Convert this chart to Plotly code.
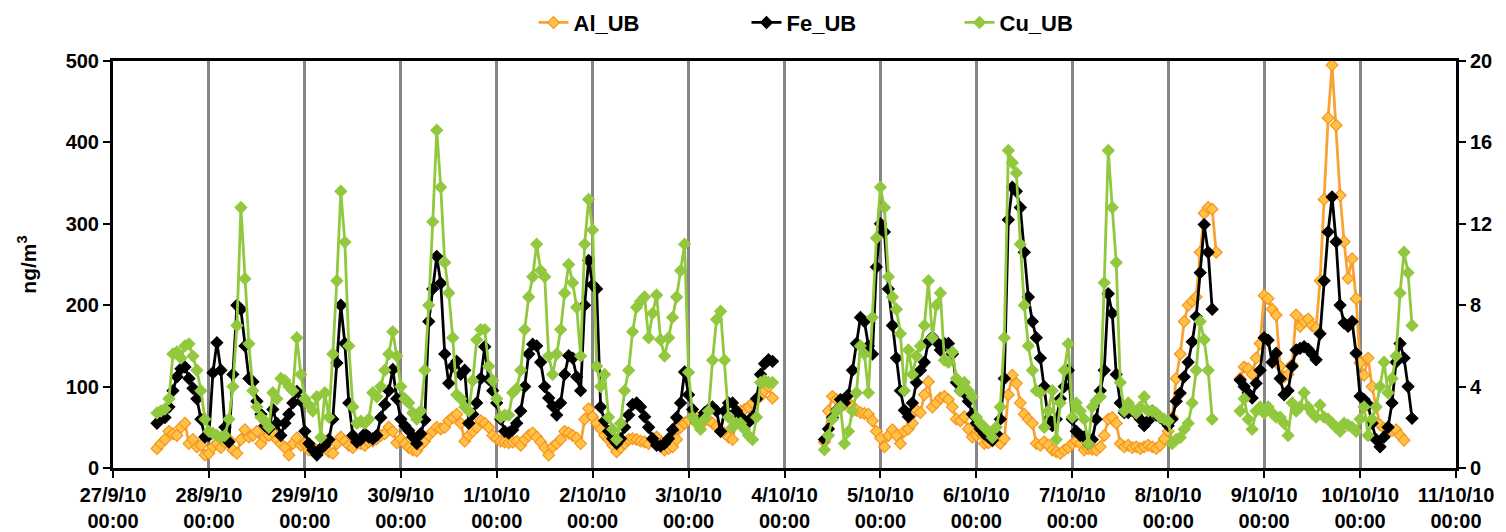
"""
Hourly Al / Fe / Cu concentrations at UB site, 27/9/10 - 10/10/10
"""
import pandas as pd
import plotly.graph_objects as go

# start hour (from 27/9/10 00:00) of each measurement block
seg_start = [11, 178, 282]

# Al_UB, ng/m3 (left axis)
al_seg1 = [24, 30, 35, 45, 42, 40, 50, 55, 30, 35, 26, 28, 16, 18, 26, 30, 25, 32, 35, 22,
           18, 35, 47, 38, 40, 45, 30, 38, 40, 44, 35, 30, 25, 16, 30, 37, 28, 30, 22, 25, 22,
           22, 25, 20, 18, 30, 38, 33, 28, 25, 31, 30, 28, 32, 33, 36, 40, 42, 50, 45, 31,
           36, 30, 25, 22, 21, 28, 33, 40, 45, 50, 48, 50, 58, 62, 66, 55, 33, 40, 45, 50,
           58, 55, 50, 40, 36, 33, 32, 31, 32, 33,
           28, 35, 40, 43, 38, 32, 25, 16, 26, 30, 35, 45, 43, 40, 37, 30, 60, 73, 63, 55,
           48, 40, 35, 28, 20, 25, 30, 35, 36, 35, 33, 32, 30, 35, 38, 30, 22, 24, 26, 35,
           50, 55, 59, 62, 63, 57, 58, 59, 55, 51,
           45, 43, 38, 35, 60, 70, 72, 75, 80, 85, 88, 95, 100, 86]
al_seg2 = [32, 70, 88, 84, 75, 78, 80, 76, 71, 68,
           67, 66, 58, 45, 37, 26, 40, 47, 40, 30,
           45, 48, 55, 71, 68, 90, 106, 75, 80, 86,
           88, 84, 75, 60, 58, 63, 48, 38, 40, 43,
           30, 31, 33, 35, 30, 36, 90, 114, 104, 80,
           66, 60, 55, 30, 28, 32, 28, 22, 20, 18,
           22, 25, 30, 33, 30, 22, 24, 23, 22, 26,
           40, 60, 62, 55, 30, 26, 28, 25, 26, 24,
           26, 28, 26, 24, 28, 36, 45, 62, 110, 140,
           180, 200, 205, 210, 265, 313, 320, 318, 265]
al_seg3 = [110, 124, 122, 115, 135, 153, 212, 208, 195, 188,
           125, 112, 115, 127, 188, 174, 180, 183, 175, 172,
           230, 330, 430, 495, 421, 335, 278, 233, 257, 208,
           129, 114, 135, 100, 75, 53, 49, 45, 46, 47,
           40, 34]

# Fe_UB, ng/m3 (left axis)
fe_seg1 = [55, 60, 62, 75, 95, 112, 122, 124, 110, 98, 85, 60, 38, 40, 117, 154, 120, 50, 32, 115,
           200, 195, 150, 110, 106, 82, 66, 52, 48, 72, 55, 40, 55, 66, 80, 94, 82, 45, 30, 22, 16,
           24, 28, 35, 60, 129, 200, 153, 80, 40, 32, 35, 42, 38, 36, 40, 62, 78, 95, 121, 85,
           60, 52, 46, 38, 30, 42, 59, 180, 220, 260, 227, 140, 104, 125, 131, 115, 120, 55, 66, 80,
           110, 149, 109, 95, 80, 60, 45, 43, 47, 55,
           70, 100, 140, 152, 150, 130, 100, 86, 76, 65, 80, 115, 138, 135, 112, 95, 200, 255, 225, 220,
           75, 58, 45, 36, 30, 36, 50, 65, 78, 80, 75, 63, 50, 36, 28, 27, 30, 36, 47, 62,
           80, 118, 90, 72, 56, 60, 68, 72, 75, 70,
           45, 70, 80, 80, 70, 63, 58, 56, 63, 85, 115, 128, 133, 131]
fe_seg2 = [35, 48, 62, 71, 84, 80, 90, 120, 153, 185,
           180, 150, 140, 247, 300, 290, 220, 175, 135, 95,
           71, 63, 80, 105, 120, 130, 155, 161, 155, 145,
           153, 153, 140, 105, 95, 92, 82, 66, 55, 48,
           42, 38, 34, 42, 60, 110, 305, 345, 340, 320,
           265, 210, 180, 160, 135, 100, 60, 52, 60, 85,
           100, 120, 60, 45, 40, 38, 30, 35, 60, 95,
           120, 214, 190, 115, 80, 68, 68, 71, 66, 60,
           52, 58, 70, 65, 62, 58, 52, 60, 82, 92,
           112, 130, 155, 186, 240, 299, 265, 195]
fe_seg3 = [108, 100, 92, 86, 104, 120, 160, 157, 130, 141,
           110, 90, 95, 125, 145, 147, 149, 146, 140, 133,
           165, 230, 290, 333, 278, 200, 178, 174, 180, 141,
           88, 84, 78, 55, 35, 26, 38, 50, 80, 130,
           153, 135, 100, 61]

# Cu_UB, ng/m3 (right axis)
cu_seg1 = [2.7, 2.8, 2.9, 3.4, 5.6, 5.7, 5.4, 6.0, 6.1, 5.5, 4.8, 3.8, 2.4, 1.8, 1.7, 1.6, 1.5, 1.6, 2.4, 4.0,
           7.0, 12.8, 9.3, 6.1, 3.8, 3.0, 2.5, 2.3, 2.0, 3.7, 3.4, 4.4, 4.3, 4.0, 3.8, 6.4, 4.6, 3.4, 3.1, 2.8, 3.5,
           1.5, 3.7, 2.5, 5.6, 9.2, 13.6, 11.1, 6.0, 3.0, 2.2, 2.3, 2.2, 2.4, 3.7, 3.5, 4.0, 4.8, 5.6, 6.7, 5.5,
           4.0, 3.4, 3.2, 2.7, 2.4, 2.8, 4.8, 8.0, 12.1, 16.6, 13.8, 10.1, 8.6, 6.4, 3.6, 3.4, 3.0, 2.8, 4.3, 6.3,
           6.8, 6.8, 5.0, 4.3, 3.4, 2.5, 2.6, 2.6, 3.7, 3.9,
           4.8, 6.8, 8.4, 9.4, 11.0, 9.7, 9.4, 5.5, 4.6, 5.6, 6.8, 8.6, 10.0, 9.1, 7.9, 5.5, 11.0, 13.2, 11.7, 5.0,
           4.0, 4.6, 2.5, 1.9, 1.4, 2.2, 3.8, 4.8, 6.7, 7.9, 8.2, 8.4, 6.4, 7.6, 8.5, 6.3, 5.5, 6.4, 7.4, 8.4,
           9.7, 11.0, 4.7, 2.5, 2.2, 1.9, 2.4, 2.8, 5.3, 7.3,
           7.7, 5.3, 2.5, 2.0, 2.2, 2.2, 1.9, 1.6, 1.4, 2.5, 4.2, 4.3, 4.2, 4.2]
cu_seg2 = [0.9, 1.6, 2.4, 2.8, 3.0, 1.2, 1.8, 2.8, 3.7, 6.0,
           5.6, 3.7, 7.4, 11.3, 13.8, 12.8, 9.4, 8.4, 7.8, 6.6,
           3.8, 5.8, 4.6, 5.5, 6.0, 7.0, 9.2, 6.4, 8.0, 8.6,
           5.3, 5.2, 5.7, 4.4, 3.8, 4.2, 3.8, 3.5, 2.5, 2.2,
           2.0, 1.8, 1.5, 2.0, 3.0, 6.4, 15.6, 15.0, 14.5, 11.0,
           8.0, 6.0, 4.8, 3.8, 3.7, 2.0, 2.8, 3.8, 1.4, 3.2,
           4.8, 6.1, 2.5, 3.2, 2.8, 2.4, 1.2, 3.0, 3.3, 3.5,
           9.1, 15.6, 12.8, 10.1, 4.2, 2.8, 3.2, 2.9, 2.7, 3.0,
           3.5, 2.8, 2.8, 2.7, 2.5, 2.4, 2.3, 1.2, 1.4, 1.5,
           1.9, 2.2, 3.2, 4.8, 7.2, 6.3, 4.8, 2.4]
cu_seg3 = [2.8, 3.4, 2.4, 1.9, 2.8, 3.0, 2.7, 3.0, 2.7, 2.5,
           2.5, 2.2, 1.6, 3.2, 2.8, 3.0, 3.7, 3.0, 2.7, 2.5,
           3.1, 2.5, 2.4, 2.2, 2.0, 1.8, 2.2, 2.1, 2.0, 1.8,
           2.4, 3.0, 1.6, 2.4, 3.0, 4.0, 5.2, 3.7, 4.4, 5.5,
           8.6, 10.6, 9.6, 7.0]

t0 = pd.Timestamp('2010-09-27 00:00')
day_ticks = pd.date_range('2010-09-27', '2010-10-11', freq='D')
tick_text = [f'{d.day}/{d.month}/{d:%y}<br>00:00' for d in day_ticks]

FONT = 'Liberation Sans, Arial'


def build_series(segments):
    xs, ys = [], []
    for start, vals in zip(seg_start, segments):
        if xs:
            xs.append(None)
            ys.append(None)
        xs += list(t0 + pd.to_timedelta(range(start, start + len(vals)), unit='h'))
        ys += vals
    return xs, ys


series = [
    ('Al_UB', [al_seg1, al_seg2, al_seg3], '#F9A235', '#FFC247', '#F7941D', 'y'),
    ('Fe_UB', [fe_seg1, fe_seg2, fe_seg3], '#000000', '#000000', '#000000', 'y'),
    ('Cu_UB', [cu_seg1, cu_seg2, cu_seg3], '#92C83E', '#92C83E', '#92C83E', 'y2'),
]

fig = go.Figure()
for name, segs, line_col, fill_col, edge_col, axis in series:
    x, y = build_series(segs)
    fig.add_trace(go.Scatter(
        x=x, y=y, name=name, yaxis=axis, mode='lines+markers',
        line=dict(color=line_col, width=2.8),
        marker=dict(symbol='diamond', size=9, color=fill_col,
                    line=dict(color=edge_col, width=1.2)),
    ))

axis_font = dict(family=FONT, size=20, color='black', weight='bold')

# page body adds an 8px offset, so the figure is a little smaller than the window
fig.update_layout(
    width=1498, height=524,
    margin=dict(l=105, r=50, t=53, b=64, autoexpand=False),
    plot_bgcolor='white', paper_bgcolor='white',
    font=dict(family=FONT, color='black'),
    legend=dict(orientation='h', x=0.551, xanchor='center', yref='container', y=0.972, yanchor='middle',
                font=dict(family=FONT, size=22, color='black', weight='bold'),
                entrywidth=168, entrywidthmode='pixels', itemwidth=30,
                bgcolor='rgba(0,0,0,0)'),
    xaxis=dict(
        type='date', range=[day_ticks[0], day_ticks[-1]],
        tickvals=day_ticks, ticktext=tick_text, tickfont=axis_font,
        showgrid=True, gridcolor='#868686', gridwidth=2.5,
        showline=True, linecolor='black', linewidth=3, mirror=True,
        ticks='outside', ticklen=7, tickwidth=2, tickcolor='black',
        zeroline=False,
    ),
    yaxis=dict(
        range=[0, 500], dtick=100, tickfont=axis_font,
        title=dict(text='ng/m<sup>3</sup>', font=dict(family=FONT, size=21, color='black', weight='bold'),
                   standoff=24),
        showgrid=False, zeroline=False,
        showline=True, linecolor='black', linewidth=3,
        ticks='outside', ticklen=7, tickwidth=2, tickcolor='black',
    ),
    yaxis2=dict(
        range=[0, 20], dtick=4, overlaying='y', side='right', tickfont=axis_font,
        showgrid=False, zeroline=False,
        showline=True, linecolor='black', linewidth=3,
        ticks='outside', ticklen=7, tickwidth=2, tickcolor='black',
    ),
)

fig.write_html("out.html")
